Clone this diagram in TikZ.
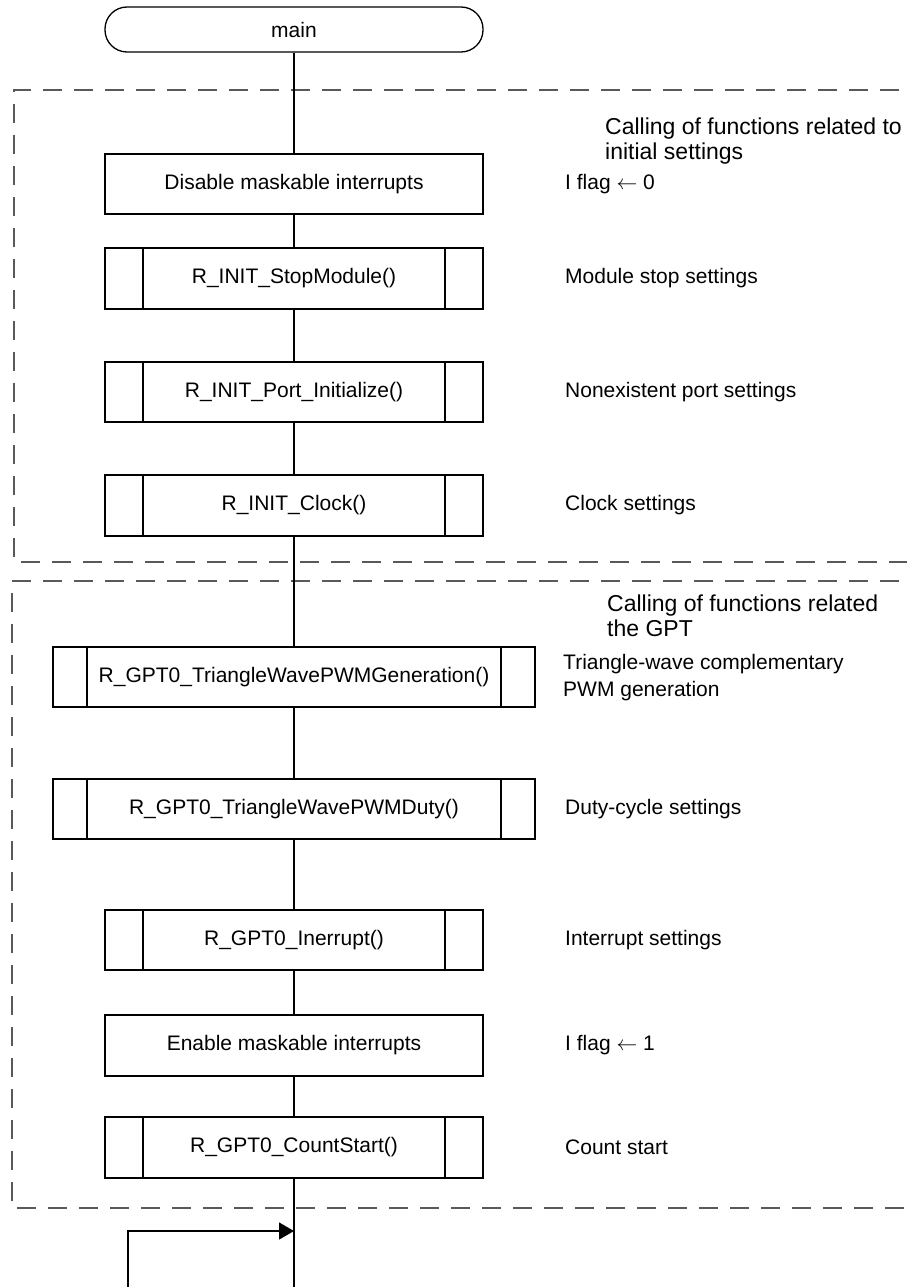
\documentclass[tikz,border=0pt]{standalone}
\usepackage{fontspec}
\setmainfont{Liberation Sans}
\usetikzlibrary{arrows.meta}
\begin{document}
\begin{tikzpicture}[x=1pt,y=-1pt,
  box/.style={draw=black, line width=1.3pt, rectangle, inner sep=0pt, minimum width=378pt, minimum height=60pt, font=\fontsize{21}{25}\selectfont},
  widebox/.style={box, minimum width=482pt},
  subr/.style={path picture={
     \draw[line width=1.3pt] ([xshift=#1]path picture bounding box.north west) -- ([xshift=#1]path picture bounding box.south west);
     \draw[line width=1.3pt] ([xshift=-#1]path picture bounding box.north east) -- ([xshift=-#1]path picture bounding box.south east);}},
  term/.style={draw=black, line width=1.3pt, rectangle, rounded corners=22pt, inner sep=0pt, minimum width=378pt, minimum height=45pt, font=\fontsize{21}{25}\selectfont},
  lbl/.style={anchor=west, inner sep=0pt, font=\fontsize{21}{27}\selectfont, align=left},
  head/.style={anchor=west, inner sep=0pt, font=\fontsize{23}{25}\selectfont, align=left},
  group/.style={draw=black!65, line width=1.8pt, dash pattern=on 19pt off 12pt},
  flow/.style={draw=black, line width=1.3pt}
]
\useasboundingbox (0,0) rectangle (907,1287);
\fill[white] (0,0) rectangle (907,1287);

% dashed groups
\draw[group] (930,90) -- (14,90) -- (14,562) -- (930,562);
\draw[group] (930,581) -- (12,581) -- (12,1208) -- (930,1208);

% nodes
\node[term] (main) at (294,29.5) {main};
\node[box] (dis) at (294,184) {Disable maskable interrupts};
\node[box, minimum height=61pt, subr=38pt] (stop) at (294,278.5) {R\_INIT\_StopModule()};
\node[box, subr=38pt] (port) at (294,392) {R\_INIT\_Port\_Initialize()};
\node[box, minimum height=61pt, subr=38pt] (clock) at (294,505.5) {R\_INIT\_Clock()};
\node[widebox, subr=34pt] (gen) at (294,677) {R\_GPT0\_TriangleWavePWMGeneration()};
\node[widebox, subr=34pt] (duty) at (294,809) {R\_GPT0\_TriangleWavePWMDuty()};
\node[box, subr=38pt] (intr) at (294,940) {R\_GPT0\_Inerrupt()};
\node[box, minimum height=61pt] (en) at (294,1045.5) {Enable maskable interrupts};
\node[box, minimum height=61pt, subr=38pt] (cnt) at (294,1147.5) {R\_GPT0\_CountStart()};

% labels
\node[head] (h1) at (605,141) {Calling of functions related to\\initial settings};
\node[head] (h2) at (607,615.5) {Calling of functions related\\the GPT};
\node[lbl] (l1) at (565,184) {I flag $\leftarrow$ 0};
\node[lbl] (l2) at (565,278.5) {Module stop settings};
\node[lbl] (l3) at (565,392) {Nonexistent port settings};
\node[lbl] (l4) at (565,505.5) {Clock settings};
\node[lbl] (l5) at (563,678) {Triangle-wave complementary\\PWM generation};
\node[lbl] (l6) at (565,809) {Duty-cycle settings};
\node[lbl] (l7) at (565,940) {Interrupt settings};
\node[lbl] (l8) at (565,1045.5) {I flag $\leftarrow$ 1};
\node[lbl] (l9) at (565,1147.5) {Count start};

% connectors
\coordinate (bot) at (294,1290);
\coordinate (loopb) at (128,1290);
\coordinate (loopt) at (128,1231);
\coordinate (join) at (294,1231);
\draw[flow] (main) -- (dis);
\draw[flow] (dis) -- (stop);
\draw[flow] (stop) -- (port);
\draw[flow] (port) -- (clock);
\draw[flow] (clock) -- (gen);
\draw[flow] (gen) -- (duty);
\draw[flow] (duty) -- (intr);
\draw[flow] (intr) -- (en);
\draw[flow] (en) -- (cnt);
\draw[flow] (cnt) -- (bot);
\draw[flow, -{Triangle[length=15pt,width=17pt]}] (loopb) -- (loopt) -- (join);
\end{tikzpicture}
\end{document}
